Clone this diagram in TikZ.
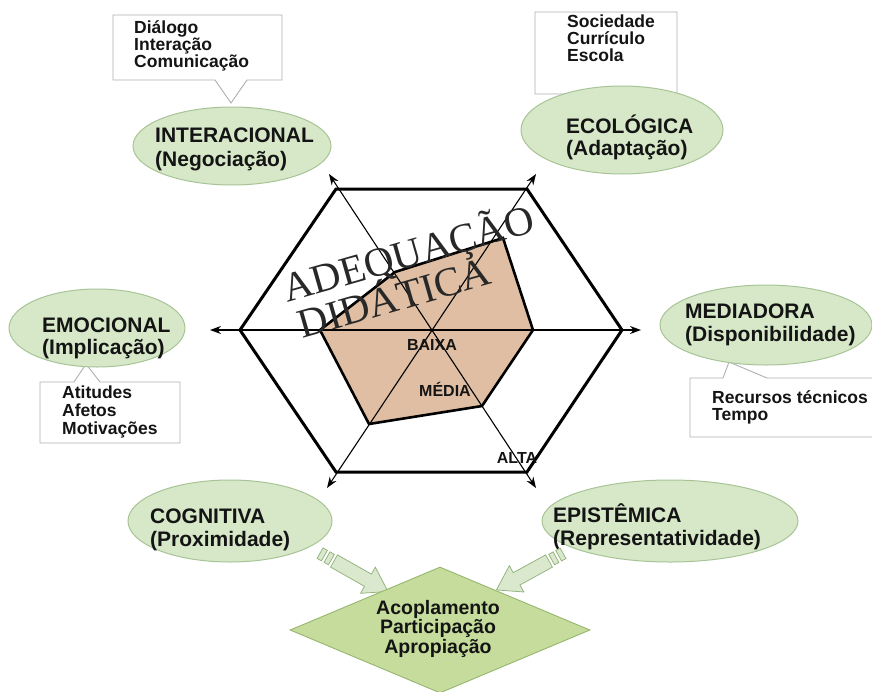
\documentclass[tikz,border=0pt]{standalone}
\usepackage{fontspec}
\setmainfont{Liberation Serif}
\setsansfont{Liberation Sans}
\usetikzlibrary{shapes.geometric,arrows.meta}
\definecolor{ellfill}{RGB}{214,232,200}
\definecolor{elldraw}{RGB}{168,196,150}
\definecolor{polyfill}{RGB}{223,190,163}
\definecolor{diafill}{RGB}{198,220,156}
\definecolor{diadraw}{RGB}{150,182,110}
\definecolor{arrfill}{RGB}{218,233,205}
\definecolor{arrdraw}{RGB}{150,180,130}
\definecolor{boxdraw}{RGB}{175,175,175}
\definecolor{txt}{RGB}{20,20,20}
\begin{document}
\begin{tikzpicture}[x=1pt,y=-1pt,
  ell/.style={ellipse,fill=ellfill,draw=elldraw,line width=1pt,inner sep=0},
  lab/.style={font={\fontsize{21}{23}\selectfont\sffamily\bfseries},anchor=base west,inner sep=0,text=txt},
  small/.style={font={\fontsize{17.5}{19}\selectfont\sffamily\bfseries},anchor=base west,inner sep=0,text=txt},
  dlab/.style={font={\fontsize{19.5}{21}\selectfont\sffamily\bfseries},anchor=base,inner sep=0,text=txt},
  lvl/.style={font={\fontsize{16}{18}\selectfont\sffamily\bfseries},anchor=base,inner sep=0,text=txt},
  big/.style={font={\fontsize{41}{42}\selectfont\rmfamily},anchor=base,inner sep=0,text={rgb,255:red,40;green,40;blue,40},rotate=16},
  callout/.style={fill=white,draw=boxdraw,line width=0.9pt,line join=miter},
  axis/.style={line width=1.1pt,{Stealth[length=11pt,width=8pt]}-{Stealth[length=11pt,width=8pt]}},
  hexline/.style={line width=3pt,line join=miter},
  barrow/.style={fill=arrfill,draw=arrdraw,line width=0.8pt}]
\useasboundingbox (0,0) rectangle (872,691);

% ---- callouts ----
\draw[callout] (113,15) -- (282,15) -- (282,80) -- (247,80) -- (231,103) -- (215,80) -- (113,80) -- cycle;
\draw[callout] (535,12) -- (677,12) -- (677,94) -- (602,94) -- (583,104) -- (568,94) -- (535,94) -- cycle;
\draw[callout] (40,382) -- (74,382) -- (86,364) -- (100,382) -- (180,382) -- (180,443) -- (40,443) -- cycle;
\draw[callout] (690,378) -- (723,378) -- (729,362) -- (767,378) -- (885,378) -- (885,437) -- (690,437) -- cycle;

\node[small] (d1) at (134,33) {Diálogo};
\node[small] (d2) at (134,50) {Interação};
\node[small] (d3) at (134,67) {Comunicação};
\node[small] (s1) at (567,27) {Sociedade};
\node[small] (s2) at (567,44) {Currículo};
\node[small] (s3) at (567,61) {Escola};
\node[small] (a1) at (62,398) {Atitudes};
\node[small] (a2) at (62,416) {Afetos};
\node[small] (a3) at (62,434) {Motivações};
\node[small] (r1) at (712,403) {Recursos técnicos};
\node[small] (r2) at (712,420) {Tempo};

% ---- ellipses ----
\node[ell,minimum width=198pt,minimum height=78pt] (inter) at (232,146) {};
\node[ell,minimum width=202pt,minimum height=88pt] (eco) at (622,130) {};
\node[ell,minimum width=176pt,minimum height=78pt] (emo) at (97,328) {};
\node[ell,minimum width=212pt,minimum height=80pt] (med) at (766,325) {};
\node[ell,minimum width=204pt,minimum height=82pt] (cog) at (230,521) {};
\node[ell,minimum width=256pt,minimum height=82pt] (epi) at (670,521) {};

\node[lab] (inter1) at (155,142) {INTERACIONAL};
\node[lab] (inter2) at (155,166) {(Negociação)};
\node[lab] (eco1) at (566,133) {ECOLÓGICA};
\node[lab] (eco2) at (566,155) {(Adaptação)};
\node[lab] (emo1) at (42,332) {EMOCIONAL};
\node[lab] (emo2) at (42,354) {(Implicação)};
\node[lab] (med1) at (685,318) {MEDIADORA};
\node[lab] (med2) at (685,341) {(Disponibilidade)};
\node[lab] (cog1) at (150,523) {COGNITIVA};
\node[lab] (cog2) at (150,546) {(Proximidade)};
\node[lab] (epi1) at (553,522) {EPISTÊMICA};
\node[lab] (epi2) at (553,545) {(Representatividade)};

% ---- hexagon ----
\coordinate (C) at (432,330);
\coordinate (H1) at (336,189);
\coordinate (H2) at (527,189);
\coordinate (H3) at (622,330);
\coordinate (H4) at (527,472);
\coordinate (H5) at (336,472);
\coordinate (H6) at (240,330);
\coordinate (P1) at (320,330);
\coordinate (P2) at (395,272);
\coordinate (P3) at (503,238);
\coordinate (P4) at (533,330);
\coordinate (P5) at (482,406);
\coordinate (P6) at (369,424);
\fill[polyfill] (P1) -- (P2) -- (P3) -- (P4) -- (P5) -- (P6) -- cycle;
\draw[hexline] (H1) -- (H2) -- (H3) -- (H4) -- (H5) -- (H6) -- cycle;

\coordinate (AL) at (210,330);
\coordinate (AR) at (641,330);
\coordinate (ATL) at (329,174);
\coordinate (ABR) at (536,488);
\coordinate (ATR) at (536,174);
\coordinate (ABL) at (327,488);
\draw[axis] (AL) -- (AR);
\draw[axis] (ATL) -- (ABR);
\draw[axis] (ATR) -- (ABL);

\draw[line width=2.6pt,line join=miter] (P1) -- (P2) -- (P3) -- (P4) -- (P5) -- (P6) -- cycle;

\node[lvl] (baixa) at (432,350) {BAIXA};
\node[lvl] (media) at (445,396) {MÉDIA};
\node[lvl] (alta) at (517,463) {ALTA};

\node[big] (adq) at (412,267) {ADEQUAÇÃO};
\node[big] (did) at (398,311) {DIDÁTICA};

% ---- block arrows ----
\begin{scope}[shift={(334,561)},rotate=-29.5]
  \draw[barrow] (0,-7) -- (39,-7) -- (39,-15) -- (62,0) -- (39,15) -- (39,7) -- (0,7) -- cycle;
  \draw[barrow] (-8,-6) rectangle (-3,6);
  \draw[barrow] (-16,-6) rectangle (-11,6);
\end{scope}
\begin{scope}[shift={(549,561)},rotate=208.8]
  \draw[barrow] (0,-7) -- (37,-7) -- (37,-15) -- (60,0) -- (37,15) -- (37,7) -- (0,7) -- cycle;
  \draw[barrow] (-8,-6) rectangle (-3,6);
  \draw[barrow] (-16,-6) rectangle (-11,6);
\end{scope}

% ---- diamond ----
\node[diamond,fill=diafill,draw=diadraw,line width=0.9pt,minimum width=300pt,minimum height=126pt,inner sep=0] (dia) at (440,630) {};
\node[dlab] (ac1) at (438,614) {Acoplamento};
\node[dlab] (ac2) at (438,633) {Participação};
\node[dlab] (ac3) at (438,653) {Apropiação};
\end{tikzpicture}
\end{document}
